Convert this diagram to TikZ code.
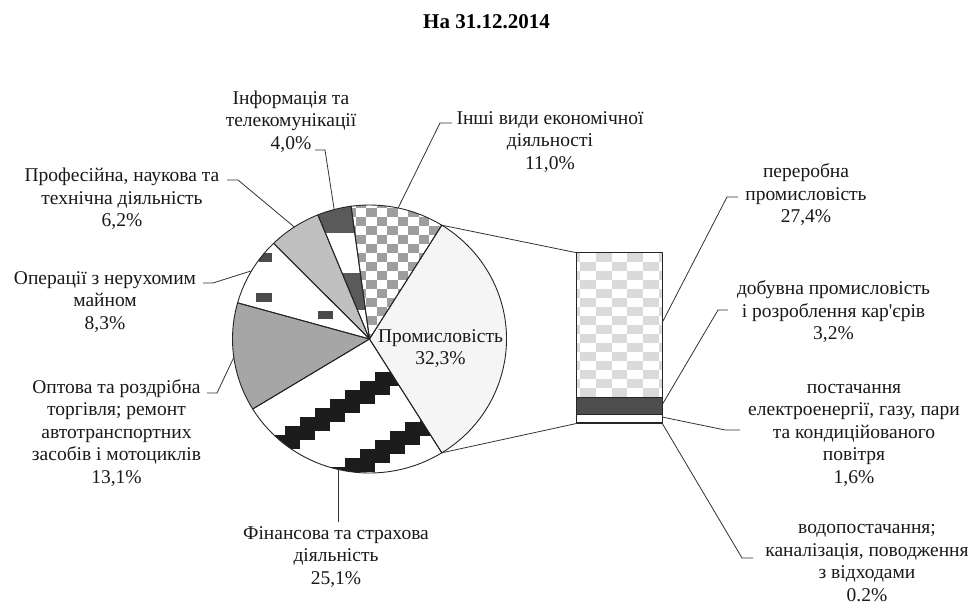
\documentclass[tikz,border=0pt]{standalone}
\usepackage{fontspec}
\setmainfont{Liberation Serif}[Ligatures=TeXOff]
\usetikzlibrary{calc}
\newcommand{\pslice}[2]{(C) -- ++(#1:137pt and 134pt) arc[start angle=#1, end angle=#2, x radius=137pt, y radius=134pt] -- cycle}
\definecolor{indfill}{HTML}{F5F5F5}
\definecolor{chkgray}{HTML}{9E9E9E}
\definecolor{infdark}{HTML}{5A5A5A}
\definecolor{profgray}{HTML}{C0C0C0}
\definecolor{opdark}{HTML}{4A4A4A}
\definecolor{tradegray}{HTML}{A6A6A6}
\definecolor{finblack}{HTML}{1C1C1C}
\definecolor{barchk}{HTML}{DADADA}
\definecolor{bardark}{HTML}{4D4D4D}
\begin{document}
\begin{tikzpicture}[x=1pt,y=1pt,
  lbl/.style={font=\fontsize{19.5}{22.5}\selectfont, align=center, inner sep=0pt, text=black!90},
  ttl/.style={font=\fontsize{21}{24}\selectfont\bfseries, inner sep=0pt},
  lead/.style={draw=black!80, line width=0.8pt},
  outl/.style={draw=black!85, line width=0.9pt, line join=round}]
\useasboundingbox (0,0) rectangle (972,605);
\fill[white] (0,0) rectangle (972,605);
\coordinate (C) at (369.5,266);

% ---------- pie fills ----------
% industry
\fill[indfill] \pslice{-58.14}{58.14};
% other activities: checker
\fill[white] \pslice{58.14}{97.74};
\begin{scope}
\clip \pslice{58.14}{97.74};
\foreach \i in {0,...,5}
  \foreach \j in {0,...,16}
    \fill[chkgray] ({345+21*\i+mod(\j,2)*10.5},{262+9*\j}) rectangle ++(10.5,9);
\end{scope}
% information: dark stripes
\fill[white] \pslice{97.74}{112.14};
\begin{scope}
\clip \pslice{97.74}{112.14};
\fill[infdark] (300,372) rectangle (380,410);
\fill[infdark] (300,295) rectangle (380,332);
\end{scope}
% professional
\fill[profgray] \pslice{112.14}{134.46};
% real estate
\fill[white] \pslice{134.46}{164.34};
\begin{scope}
\clip \pslice{134.46}{164.34};
\fill[opdark] (259,343) rectangle (272,352);
\fill[opdark] (256,303) rectangle (272,312);
\fill[opdark] (318,286) rectangle (333,294);
\end{scope}
% trade
\fill[tradegray] \pslice{164.34}{211.5};
% finance: staircase bands
\fill[white] \pslice{211.5}{301.86};
\begin{scope}
\clip \pslice{211.5}{301.86};
\foreach \b in {0,1}
  \foreach \k in {0,...,17}
    \fill[finblack] ({225+15*\k},{163+0.6*(225+15*\k+7.5-285)-68*\b-11.5}) rectangle ++(15,23);
\end{scope}

% ---------- pie outlines ----------
\foreach \a/\b in {-58.14/58.14, 58.14/97.74, 97.74/112.14, 112.14/134.46, 134.46/164.34, 164.34/211.5, 211.5/301.86}
  \draw[outl] \pslice{\a}{\b};

% ---------- bar ----------
\coordinate (barBL) at (576,181.4);
\coordinate (barTL) at (576,352.4);
\coordinate (barTR) at (662,352.4);
\begin{scope}
\clip (576,207.8) rectangle (662,352.4);
\fill[white] (576,207.8) rectangle (662,352.4);
\foreach \i in {0,...,3}
  \foreach \j in {0,...,16}
    \fill[barchk] ({564.2+31.6*\i+mod(\j,2)*15.8},{352.4-9*(\j+1)}) rectangle ++(15.8,9);
\end{scope}
\fill[bardark] (576,190.9) rectangle (662,207.8);
\fill[white] (576,181.4) rectangle (662,190.9);
\draw[outl] (barBL) rectangle (barTR);
\draw[outl] (576,207.8) -- (662,207.8);
\draw[outl] (576,190.9) -- (662,190.9);
\draw[outl] (576,182.5) -- (662,182.5);

% ---------- pie to bar ----------
\coordinate (pTop) at ($(C)+(58.14:137pt and 134pt)$);
\coordinate (pBot) at ($(C)+(-58.14:137pt and 134pt)$);
\draw[lead] (pTop) -- (barTL);
\draw[lead] (pBot) -- (barBL);

% ---------- labels ----------
\node[ttl] (title) at (486.5,583.3) {На 31.12.2014};
\node[lbl] (tInf) at (291,483.5) {Інформація та\\телекомунікації\\4,0\%};
\node[lbl] (tOth) at (550,463.3) {Інші види економічної\\діяльності\\11,0\%};
\node[lbl] (tProf) at (122,406) {Професійна, наукова та\\технічна діяльність\\6,2\%};
\node[lbl] (tOper) at (105,303.3) {Операції з нерухомим\\майном\\8,3\%};
\node[lbl] (tTrade) at (116.5,172) {Оптова та роздрібна\\торгівля; ремонт\\автотранспортних\\засобів і мотоциклів\\13,1\%};
\node[lbl] (tFin) at (336,48.3) {Фінансова та страхова\\діяльність\\25,1\%};
\node[lbl] (tInd) at (440.5,256.5) {Промисловість\\32,3\%};
\node[lbl] (tMan) at (806,410) {переробна\\промисловість\\27,4\%};
\node[lbl] (tMin) at (833.5,293) {добувна промисловість\\і розроблення кар'єрів\\3,2\%};
\node[lbl] (tEl) at (854,170) {постачання\\електроенергії, газу, пари\\та кондиційованого\\повітря\\1,6\%};
\node[lbl] (tWat) at (867,42) {водопостачання;\\каналізація, поводження\\з відходами\\0.2\%};

% ---------- leader lines ----------
\coordinate (rInf) at ($(C)+(104.94:137pt and 134pt)$);
\coordinate (rOth) at ($(C)+(77.94:137pt and 134pt)$);
\coordinate (rProf) at ($(C)+(123.3:137pt and 134pt)$);
\coordinate (rOper) at ($(C)+(149.4:137pt and 134pt)$);
\coordinate (rTr) at ($(C)+(187.9:137pt and 134pt)$);
\coordinate (rFin) at ($(C)+(256.7:137pt and 134pt)$);
\coordinate (eInf0) at (315,455); \coordinate (eInf1) at (325,455);
\coordinate (eOth0) at (452,482); \coordinate (eOth1) at (440,482);
\coordinate (eProf0) at (227,425); \coordinate (eProf1) at (238,425);
\coordinate (eOper0) at (203,322); \coordinate (eOper1) at (213,322);
\coordinate (eTr0) at (207,212); \coordinate (eTr1) at (217,212);
\coordinate (eFin) at (338,83);
\draw[lead] (eInf0) -- (eInf1) -- (rInf);
\draw[lead] (eOth0) -- (eOth1) -- (rOth);
\draw[lead] (eProf0) -- (eProf1) -- (rProf);
\draw[lead] (eOper0) -- (eOper1) -- (rOper);
\draw[lead] (eTr0) -- (eTr1) -- (rTr);
\draw[lead] (rFin |- eFin) -- (rFin);

\coordinate (bMan) at (662,282); \coordinate (kMan1) at (727,408); \coordinate (kMan2) at (738,408);
\coordinate (bMin) at (662,200); \coordinate (kMin1) at (718,295); \coordinate (kMin2) at (728,295);
\coordinate (bEl) at (662,188); \coordinate (kEl1) at (725,175); \coordinate (kEl2) at (740,175);
\coordinate (bWat) at (662,182); \coordinate (kWat1) at (742,47); \coordinate (kWat2) at (753,47);
\draw[lead] (bMan) -- (kMan1) -- (kMan2);
\draw[lead] (bMin) -- (kMin1) -- (kMin2);
\draw[lead] (bEl) -- (kEl1) -- (kEl2);
\draw[lead] (bWat) -- (kWat1) -- (kWat2);
\end{tikzpicture}
\end{document}
